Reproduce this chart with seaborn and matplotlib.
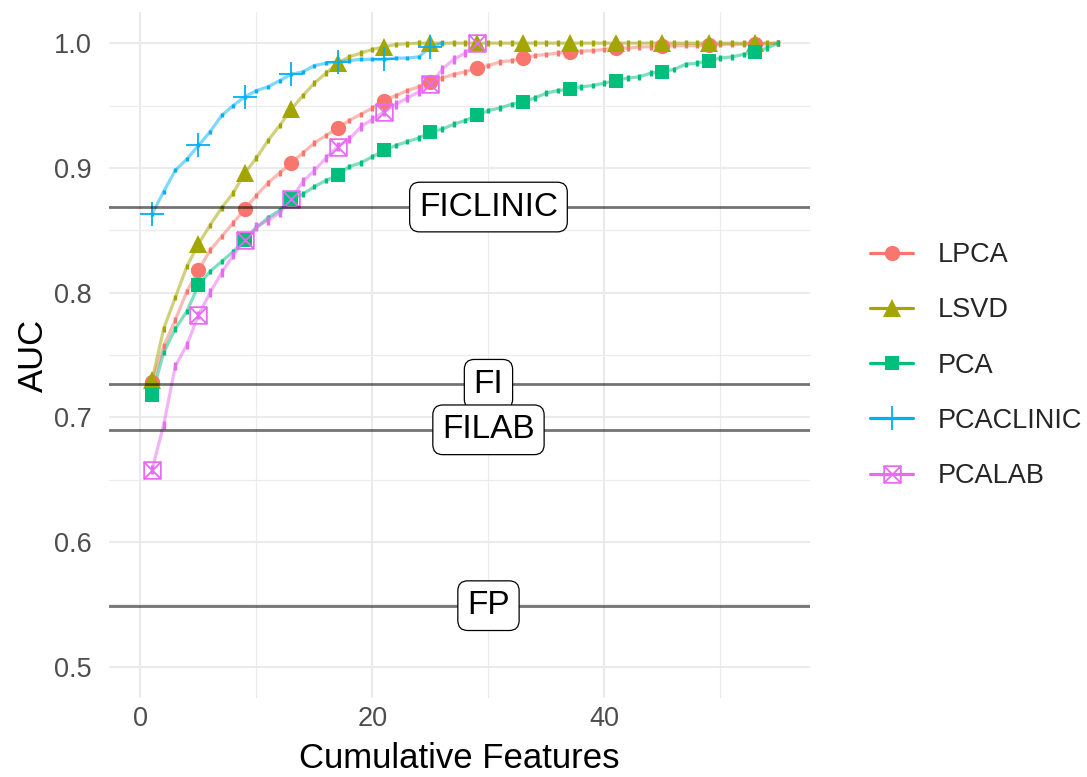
import numpy as np
import pandas as pd
import matplotlib
matplotlib.use("Agg")
import matplotlib.pyplot as plt
import seaborn as sns
from matplotlib.path import Path
from matplotlib.lines import Line2D
from matplotlib.ticker import MultipleLocator

# ---- data -----------------------------------------------------------------
methods = ["LPCA", "LSVD", "PCA", "PCACLINIC", "PCALAB"]

lpca_auc = [0.728, 0.757, 0.778, 0.801, 0.818, 0.834, 0.845, 0.856, 0.867, 0.878,
            0.888, 0.896, 0.904, 0.912, 0.920, 0.926, 0.932, 0.938, 0.943, 0.948,
            0.954, 0.958, 0.962, 0.965, 0.969, 0.972, 0.975, 0.977, 0.980, 0.982,
            0.985, 0.986, 0.988, 0.990, 0.991, 0.992, 0.993, 0.9935, 0.994, 0.995,
            0.996, 0.996, 0.997, 0.997, 0.9975, 0.998, 0.998, 0.998, 0.9985, 0.999,
            0.999, 0.999, 0.9995, 0.9995, 1.0]

lsvd_auc = [0.730, 0.771, 0.796, 0.821, 0.839, 0.854, 0.868, 0.880, 0.896, 0.908,
            0.922, 0.934, 0.947, 0.958, 0.968, 0.976, 0.984, 0.989, 0.992, 0.995,
            0.997, 0.999, 0.9995, 1.0, 1.0, 1.0, 1.0, 1.0, 1.0, 1.0,
            1.0, 1.0, 1.0, 1.0, 1.0, 1.0, 1.0, 1.0, 1.0, 1.0,
            1.0, 1.0, 1.0, 1.0, 1.0, 1.0, 1.0, 1.0, 1.0, 1.0,
            1.0, 1.0, 1.0, 1.0, 1.0]

pca_auc = [0.718, 0.752, 0.771, 0.785, 0.806, 0.817, 0.825, 0.833, 0.842, 0.852,
           0.860, 0.866, 0.875, 0.879, 0.885, 0.890, 0.894, 0.901, 0.904, 0.909,
           0.914, 0.918, 0.921, 0.924, 0.929, 0.931, 0.935, 0.938, 0.942, 0.946,
           0.948, 0.951, 0.953, 0.956, 0.960, 0.962, 0.963, 0.965, 0.966, 0.968,
           0.970, 0.972, 0.973, 0.976, 0.977, 0.979, 0.983, 0.984, 0.986, 0.988,
           0.989, 0.991, 0.993, 0.996, 1.0]

pcaclinic_auc = [0.863, 0.881, 0.898, 0.907, 0.918, 0.929, 0.942, 0.950, 0.957, 0.962,
                 0.965, 0.970, 0.975, 0.977, 0.982, 0.984, 0.985, 0.986, 0.987, 0.987,
                 0.987, 0.988, 0.988, 0.989, 0.997, 1.0]

pcalab_auc = [0.658, 0.694, 0.741, 0.758, 0.782, 0.800, 0.816, 0.830, 0.842, 0.853,
              0.858, 0.864, 0.875, 0.889, 0.898, 0.908, 0.917, 0.923, 0.933, 0.939,
              0.945, 0.951, 0.956, 0.961, 0.967, 0.979, 0.987, 0.992, 1.0]

# half-width of the error bar drawn at every feature count
auc_err = [0.0022, 0.0022, 0.0022, 0.0016, 0.0034]

# single-feature-set baselines
ref_names = ["FI", "FICLINIC", "FILAB", "FP"]
ref_auc = [0.7265, 0.8686, 0.690, 0.549]
ref_label_x = 30

x_ticks = [0, 20, 40]
y_ticks = [0.5, 0.6, 0.7, 0.8, 0.9, 1.0]

# ---- long-form table --------------------------------------------------------
series = [lpca_auc, lsvd_auc, pca_auc, pcaclinic_auc, pcalab_auc]
frames = []
for name, vals in zip(methods, series):
    frames.append(pd.DataFrame({"features": np.arange(1, len(vals) + 1),
                                "auc": vals, "method": name}))
df = pd.concat(frames, ignore_index=True)

# ---- styling ----------------------------------------------------------------
sns.set_theme(style="white")
plt.rcParams["font.family"] = ["Liberation Sans", "DejaVu Sans"]

colors = ["#F8766D", "#A3A500", "#00BF7D", "#00B0F6", "#E76BF3"]
palette = dict(zip(methods, colors))

# square with a diagonal cross
sq_x = Path([(-1, -1), (1, -1), (1, 1), (-1, 1), (-1, -1),
             (-1, -1), (1, 1), (-1, 1), (1, -1)],
            [Path.MOVETO, Path.LINETO, Path.LINETO, Path.LINETO, Path.CLOSEPOLY,
             Path.MOVETO, Path.LINETO, Path.MOVETO, Path.LINETO])
marker_style = {
    "LPCA": dict(marker="o", markersize=11, mfc=colors[0], mec=colors[0], mew=0),
    "LSVD": dict(marker="^", markersize=13.5, mfc=colors[1], mec=colors[1], mew=0),
    "PCA": dict(marker="s", markersize=10, mfc=colors[2], mec=colors[2], mew=0),
    "PCACLINIC": dict(marker="+", markersize=17, mfc=colors[3], mec=colors[3], mew=1.3),
    "PCALAB": dict(marker=sq_x, markersize=12, mfc="none", mec=colors[4], mew=1.3),
}

fig = plt.figure(figsize=(10.87, 7.77), dpi=100)
ax = fig.add_axes([0.0999, 0.1017, 0.6456, 0.8829])

sns.lineplot(data=df, x="features", y="auc", hue="method", palette=palette,
             estimator=None, linewidth=2.3, alpha=0.5, legend=False, ax=ax,
             zorder=2)

for name, err in zip(methods, auc_err):
    sub = df[df["method"] == name]
    ax.errorbar(sub["features"], sub["auc"], yerr=err, fmt="none",
                ecolor=palette[name], elinewidth=2.4, capsize=0, zorder=3)
    pts = sub[(sub["features"] - 1) % 4 == 0]
    ax.plot(pts["features"], pts["auc"], linestyle="none", zorder=4,
            **marker_style[name])

for name, val in zip(ref_names, ref_auc):
    ax.axhline(val, color="black", alpha=0.55, linewidth=2.0, zorder=5)
    ax.text(ref_label_x, val, name, ha="center", va="center", fontsize=24,
            color="black", zorder=6,
            bbox=dict(boxstyle="round,pad=0.28,rounding_size=0.3",
                      facecolor="white", edgecolor="black", linewidth=0.9))

# axes, grid and ticks
ax.set_xlim(-2.75, 57.75)
ax.set_ylim(0.475, 1.025)
ax.set_xticks(x_ticks)
ax.set_yticks(y_ticks)
ax.set_yticklabels([f"{v:.1f}" for v in y_ticks])
ax.xaxis.set_minor_locator(MultipleLocator(10))
ax.yaxis.set_minor_locator(MultipleLocator(0.05))
ax.grid(which="major", color="#EBEBEB", linewidth=1.5)
ax.grid(which="minor", color="#EBEBEB", linewidth=0.8)
ax.set_axisbelow(True)
for sp in ax.spines.values():
    sp.set_visible(False)
ax.tick_params(axis="both", which="both", length=0, labelsize=19.5,
               labelcolor="#4D4D4D")
ax.tick_params(axis="x", pad=6)
ax.tick_params(axis="y", pad=12)
ax.set_xlabel("Cumulative Features", fontsize=25, color="black", labelpad=7)
ax.set_ylabel("AUC", fontsize=25, color="black", labelpad=3)

# legend
handles = [Line2D([0], [0], color=palette[m], linewidth=2.3, **marker_style[m])
           for m in methods]
fig.legend(handles, methods, loc="center left", bbox_to_anchor=(0.8004, 0.5296),
           frameon=False, fontsize=19.5, handlelength=1.6, handletextpad=0.9,
           labelspacing=1.08, borderpad=0, borderaxespad=0)

fig.savefig("out.png", dpi=100)
